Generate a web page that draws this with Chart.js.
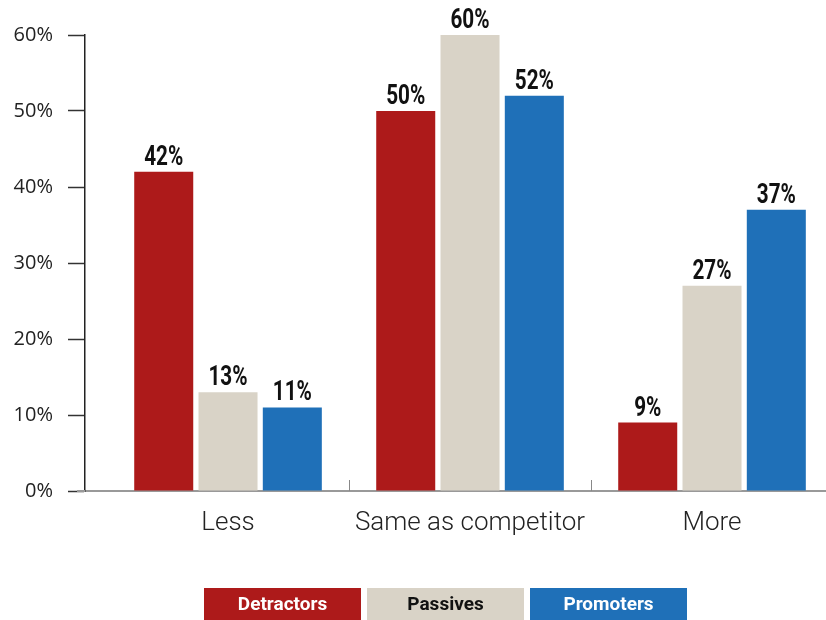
<!DOCTYPE html>
<html lang="en">
<head>
  <meta charset="UTF-8">
  <title>Pricing vs competitor</title>
  <script src="https://cdn.jsdelivr.net/npm/chart.js"></script>
  <style>
    html, body { margin: 0; padding: 0; background: #fff; overflow: hidden; }
    #wrap { width: 826px; height: 620px; position: relative; }
  </style>
</head>
<body>
  <div id="wrap"><canvas id="chart"></canvas></div>
  <script>
    // data
    const categories = ['Less', 'Same as competitor', 'More'];
    const seriesNames = ['Detractors', 'Passives', 'Promoters'];
    const detractors = [42, 50, 9];
    const passives = [13, 60, 27];
    const promoters = [11, 52, 37];
    const yTicks = [0, 10, 20, 30, 40, 50, 60];

    const colors = ['#ad1a1a', '#d9d3c7', '#1f70b8'];
    const legendText = ['#ffffff', '#111111', '#ffffff'];
    const series = [detractors, passives, promoters];

    const toPoints = vals => vals.map((v, i) => ({ x: i, y: v }));

    const extras = {
      id: 'extras',
      afterDatasetsDraw(chart) {
        const ctx = chart.ctx;
        const squeeze = 0.74; // no condensed face installed, so narrow it by hand
        ctx.save();
        ctx.font = 'bold 28px Roboto, sans-serif';
        ctx.fillStyle = '#111';
        ctx.textAlign = 'center';
        ctx.textBaseline = 'alphabetic';
        chart.data.datasets.forEach((ds, i) => {
          chart.getDatasetMeta(i).data.forEach((bar, j) => {
            ctx.save();
            ctx.translate(bar.x, bar.y - 7);
            ctx.scale(squeeze, 1);
            ctx.fillText(ds.data[j].y + '%', 0, 0);
            ctx.restore();
          });
        });
        ctx.restore();
      },
      afterDraw(chart) {
        const ctx = chart.ctx;
        const xs = chart.scales.x;
        const bottom = chart.chartArea.bottom;
        ctx.save();
        // small marks between the groups
        ctx.strokeStyle = '#888';
        ctx.lineWidth = 1;
        [0.5, 1.5].forEach(v => {
          const px = Math.round(xs.getPixelForValue(v)) + 0.5;
          ctx.beginPath();
          ctx.moveTo(px, bottom);
          ctx.lineTo(px, bottom - 11);
          ctx.stroke();
        });
        // axis stub left of the y axis
        ctx.strokeStyle = '#999';
        ctx.lineWidth = 2;
        ctx.beginPath();
        ctx.moveTo(77, bottom);
        ctx.lineTo(chart.chartArea.left, bottom);
        ctx.stroke();

        // legend boxes
        const boxW = 157, boxH = 32, gap = 6, top = 588;
        let left = 204;
        ctx.font = 'bold 19px Roboto, sans-serif';
        ctx.textAlign = 'center';
        ctx.textBaseline = 'middle';
        chart.data.datasets.forEach((ds, i) => {
          ctx.fillStyle = ds.backgroundColor;
          ctx.fillRect(left, top, boxW, boxH);
          ctx.fillStyle = legendText[i];
          ctx.fillText(ds.label, left + boxW / 2, top + boxH / 2 + 1);
          left += boxW + gap;
        });
        ctx.restore();
      }
    };

    new Chart(document.getElementById('chart'), {
      type: 'bar',
      data: {
        datasets: seriesNames.map((name, i) => ({
          label: name,
          data: toPoints(series[i]),
          backgroundColor: colors[i],
          categoryPercentage: 0.797,
          barPercentage: 0.918
        }))
      },
      options: {
        responsive: true,
        maintainAspectRatio: false,
        animation: false,
        layout: { padding: { top: 35, right: 0, bottom: 0, left: 0 } },
        plugins: {
          legend: { display: false },
          tooltip: { enabled: false }
        },
        scales: {
          x: {
            type: 'linear',
            offset: false,
            min: -0.591,
            max: 2.471,
            afterBuildTicks: s => { s.ticks = categories.map((c, i) => ({ value: i })); },
            afterFit: s => { s.height = 129; },
            grid: { display: false, drawTicks: false },
            border: { display: true, color: '#999', width: 2 },
            ticks: {
              padding: 17,
              color: '#222',
              font: { family: 'Roboto', size: 26, weight: 300 },
              callback: v => categories[v]
            }
          },
          y: {
            min: 0,
            max: 60,
            afterBuildTicks: s => { s.ticks = yTicks.map(v => ({ value: v })); },
            afterFit: s => { s.width = 85; },
            grid: {
              drawOnChartArea: false,
              drawTicks: true,
              tickLength: 17,
              tickWidth: 1.5,
              tickColor: '#333'
            },
            border: { display: true, color: '#222', width: 1.5 },
            ticks: {
              padding: 15,
              color: '#222',
              font: { family: '"Open Sans"', size: 20 },
              callback: v => v + '%'
            }
          }
        }
      },
      plugins: [extras]
    });
  </script>
</body>
</html>
